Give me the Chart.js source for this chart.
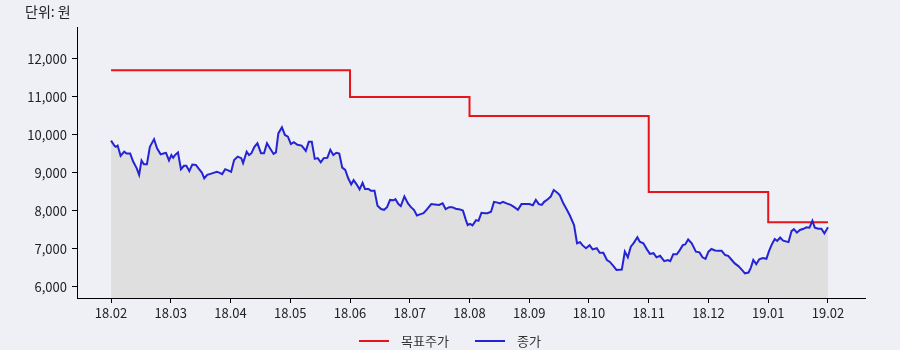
<!DOCTYPE html>
<html>
<head>
<meta charset="utf-8">
<script src="https://cdn.jsdelivr.net/npm/chart.js@4/dist/chart.umd.min.js"></script>
<style>
  html, body { margin: 0; padding: 0; background: #eff0f5; }
  #wrap { position: relative; width: 900px; height: 350px; background: #eff0f5; }
  #c { position: absolute; left: 0; top: 0; }
  #unit { position: absolute; left: 25px; top: 1px; font: 14px 'Noto Sans CJK KR', sans-serif; line-height: 20px; color: #222; }
  #legend { position: absolute; left: 0; top: 332px; width: 900px; display: flex; justify-content: center; font: 13px 'Noto Sans CJK KR', sans-serif; line-height: 18px; color: #333; }
  .item { display: flex; align-items: center; margin: 0 13px; }
  .swatch { width: 30px; height: 2px; margin-right: 12px; }
</style>
</head>
<body>
<div id="wrap">
  <canvas id="c" width="900" height="350"></canvas>
  <div id="unit">단위: 원</div>
  <div id="legend"></div>
</div>
<script>
// ---- data ----
const monthLabels = ['18.02','18.03','18.04','18.05','18.06','18.07','18.08','18.09','18.10','18.11','18.12','19.01','19.02'];
const yTickValues = [6000, 7000, 8000, 9000, 10000, 11000, 12000];

// 목표주가 (target price): month offset from 18.02 where each level starts
const targetPos   = [0, 4, 6, 9, 11, 12];
const targetPrice = [11700, 11000, 10500, 8500, 7700, 7700];

// 종가 (close): month offset from 18.02, and price
const closePos = [
  0.00,0.06,0.08,0.11,0.16,0.22,0.26,0.32,0.37,0.43,0.47,0.51,0.55,0.60,0.65,0.72,0.77,0.83,0.89,0.92,
  0.97,1.01,1.04,1.07,1.12,1.17,1.22,1.26,1.31,1.36,1.42,1.47,1.52,1.56,1.61,1.69,1.77,1.81,1.86,1.91,
  1.96,2.01,2.06,2.12,2.18,2.21,2.27,2.31,2.35,2.40,2.45,2.51,2.56,2.61,2.66,2.72,2.76,2.80,2.86,2.91,
  2.96,3.01,3.06,3.12,3.19,
  3.26,3.31,3.36,3.41,3.46,3.51,3.56,3.62,3.67,3.72,3.77,3.82,3.87,3.92,3.97,4.02,4.06,4.11,4.16,4.21,
  4.25,4.31,4.35,4.41,4.46,4.52,4.57,4.62,4.67,4.73,4.76,4.81,4.85,4.91,4.97,5.02,5.07,5.12,5.17,5.23,
  5.28,5.36,5.42,5.49,5.55,5.60,5.66,5.71,5.77,5.84,5.89,5.94,5.97,6.01,6.05,6.11,6.15,6.20,6.26,
  6.30,6.36,6.41,6.47,6.51,6.56,6.62,6.69,6.75,6.81,6.87,6.93,7.00,7.06,7.11,7.16,7.21,7.25,7.31,7.36,
  7.41,7.47,7.51,7.57,7.63,7.68,7.75,7.80,7.85,7.89,7.95,8.01,8.06,8.13,8.18,8.24,8.30,8.35,8.41,8.46,
  8.55,8.60,8.65,8.70,8.75,8.81,8.85,8.91,8.97,9.02,9.08,9.13,9.19,9.26,9.32,9.36,
  9.41,9.47,9.52,9.57,9.61,9.66,9.72,9.79,9.85,9.90,9.95,10.00,10.05,10.11,10.16,10.22,10.28,10.33,10.39,10.44,
  10.50,10.56,10.61,10.67,10.71,10.75,10.80,10.85,10.91,10.97,11.01,11.06,11.11,11.15,11.20,11.25,11.34,11.39,11.43,11.48,
  11.53,11.59,11.64,11.69,11.74,11.78,11.84,11.89,11.94,12.00
];
const closePrice = [
  9850,9710,9690,9720,9450,9560,9510,9510,9300,9120,8950,9330,9230,9230,9690,9890,9650,9490,9520,9530,
  9330,9470,9400,9470,9540,9100,9190,9190,9050,9220,9210,9110,9010,8860,8950,8990,9030,9010,8970,9100,
  9070,9030,9340,9430,9390,9260,9560,9470,9520,9690,9780,9520,9520,9780,9650,9500,9540,10040,10200,10000,
  9955,9760,9810,9740,9720,
  9580,9820,9820,9370,9390,9280,9390,9400,9610,9470,9530,9510,9140,9080,8860,8700,8810,8700,8570,8740,
  8580,8580,8530,8530,8140,8050,8030,8100,8290,8280,8310,8180,8130,8380,8200,8100,8030,7880,7910,7940,
  8030,8180,8170,8160,8200,8050,8100,8100,8060,8040,8010,7760,7630,7660,7620,7760,7740,7950,7940,
  7940,7980,8240,8220,8200,8240,8200,8160,8100,8030,8180,8180,8180,8150,8290,8180,8160,8240,8310,8380,
  8550,8480,8420,8200,8030,7880,7630,7150,7180,7100,7020,7100,6990,7020,6900,6900,6710,6660,6550,6450,
  6460,6930,6780,7060,7160,7310,7190,7150,6990,6870,6890,6780,6820,6680,6710,6680,
  6860,6860,6970,7100,7120,7250,7150,6930,6910,6780,6740,6930,7000,6960,6950,6950,6840,6820,6710,6620,
  6550,6450,6360,6380,6510,6710,6600,6730,6760,6740,6930,7120,7260,7210,7300,7220,7180,7470,7520,7430,
  7500,7530,7570,7560,7740,7560,7530,7530,7410,7570
];

const seriesNames = ['목표주가', '종가'];
const seriesColors = ['#e81419', '#2424d4'];

// ---- chart ----
const FONT = "'Noto Sans CJK KR', 'Noto Sans', sans-serif";
const tickFont = { family: FONT, size: 13 };

const chart = new Chart(document.getElementById('c'), {
  type: 'line',
  data: {
    datasets: [
      {
        label: seriesNames[0],
        data: targetPos.map((x, i) => ({ x: x, y: targetPrice[i] })),
        borderColor: seriesColors[0],
        borderWidth: 2,
        stepped: 'before',
        pointRadius: 0,
        fill: false,
        order: 2
      },
      {
        label: seriesNames[1],
        data: closePos.map((x, i) => ({ x: x, y: closePrice[i] })),
        borderColor: seriesColors[1],
        borderWidth: 2,
        backgroundColor: '#dfdfdf',
        fill: 'start',
        pointRadius: 0,
        tension: 0,
        order: 1
      }
    ]
  },
  options: {
    responsive: false,
    animation: false,
    devicePixelRatio: 1,
    layout: { padding: { top: 27, right: 35, bottom: 32, left: 0 } },
    plugins: {
      legend: { display: false },
      tooltip: { enabled: false },
      filler: { drawTime: 'beforeDatasetsDraw' }
    },
    scales: {
      x: {
        type: 'linear',
        min: -0.57,
        max: 12.62,
        afterBuildTicks: (axis) => { axis.ticks = monthLabels.map((_, i) => ({ value: i })); },
        afterFit: (s) => { s.height = 20; },
        ticks: {
          callback: (v) => monthLabels[v],
          autoSkip: false,
          maxRotation: 0,
          padding: 2,
          font: tickFont,
          color: '#222'
        },
        grid: { drawOnChartArea: false, drawTicks: true, tickLength: 5, color: '#000' },
        border: { display: true, color: '#000', width: 1 }
      },
      y: {
        min: 5710,
        max: 12840,
        afterBuildTicks: (axis) => { axis.ticks = yTickValues.map(v => ({ value: v })); },
        afterFit: (s) => { s.width = 77; },
        ticks: {
          callback: (v) => v.toLocaleString('en-US'),
          padding: 5,
          font: tickFont,
          color: '#222'
        },
        grid: { drawOnChartArea: false, drawTicks: true, tickLength: 5, color: '#000' },
        border: { display: true, color: '#000', width: 1 }
      }
    }
  }
});

// HTML legend built from the series names / colours
const legend = document.getElementById('legend');
seriesNames.forEach((name, i) => {
  const item = document.createElement('div');
  item.className = 'item';
  const sw = document.createElement('span');
  sw.className = 'swatch';
  sw.style.background = seriesColors[i];
  const tx = document.createElement('span');
  tx.textContent = name;
  item.appendChild(sw);
  item.appendChild(tx);
  legend.appendChild(item);
});
</script>
</body>
</html>
